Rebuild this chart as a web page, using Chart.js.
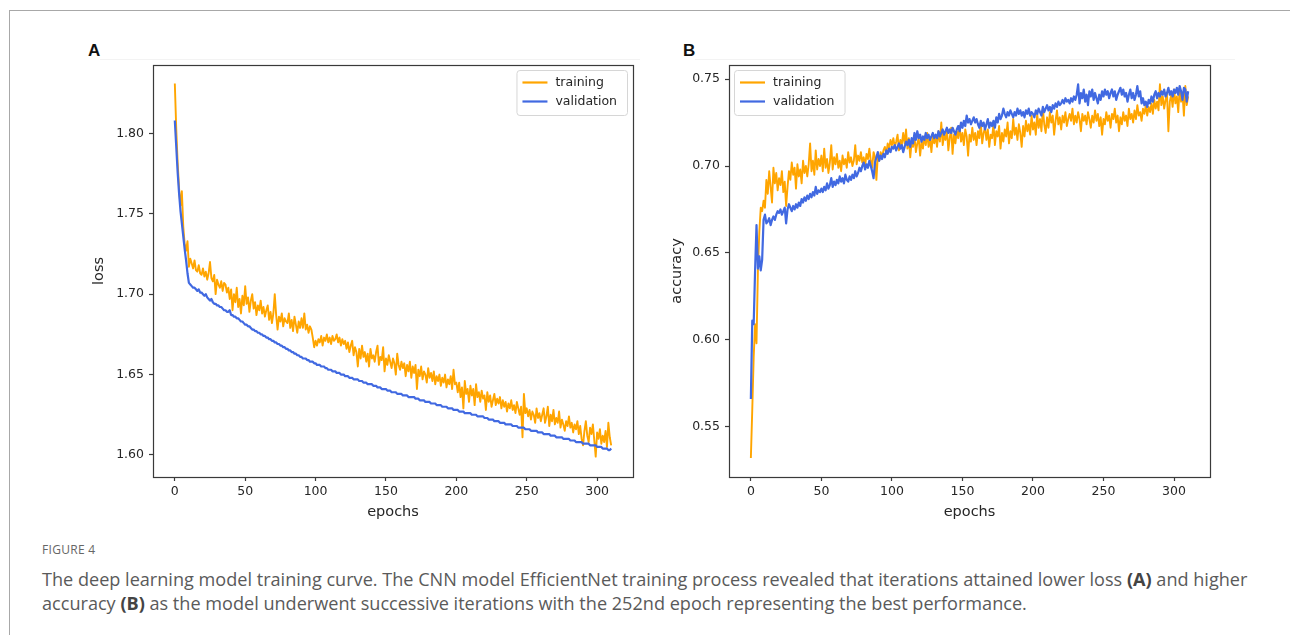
<!DOCTYPE html>
<html>
<head>
<meta charset="utf-8">
<script src="https://cdn.jsdelivr.net/npm/chart.js@4.4.1/dist/chart.umd.min.js"></script>
<style>
  html, body { margin: 0; padding: 0; background: #fff; }
  body { width: 1290px; height: 635px; position: relative; overflow: hidden; }
  .frameTop { position: absolute; left: 9px; top: 10px; width: 1281px; height: 1px; background: #a8a8a8; }
  .frameLeft { position: absolute; left: 9px; top: 10px; width: 1px; height: 625px; background: #a8a8a8; }
  .faint { position: absolute; top: 59px; height: 1px; background: #f3f3f3; }
  .panel { position: absolute; font-family: "Liberation Sans", Arial, sans-serif; font-weight: bold; font-size: 17px; color: #111; }
  canvas { position: absolute; }
  .figno { position: absolute; left: 42px; top: 541px; font-family: "Open Sans", sans-serif; font-size: 12px; color: #666; letter-spacing: 0.3px; }
  .cap { position: absolute; left: 42px; top: 567px; width: 1240px; font-family: "Open Sans", sans-serif; font-size: 18.1px; line-height: 24px; color: #5a5a5a; letter-spacing: 0px; }
  .cap b { color: #444; }
</style>
</head>
<body>
<div class="frameTop"></div>
<div class="frameLeft"></div>
<div class="faint" style="left:100px;width:540px"></div>
<div class="faint" style="left:695px;width:540px"></div>
<div class="panel" style="left:88px;top:41px">A</div>
<div class="panel" style="left:683px;top:41px">B</div>
<canvas id="cA" width="600" height="500" style="left:60px;top:30px"></canvas>
<canvas id="cB" width="600" height="500" style="left:640px;top:30px"></canvas>
<div class="figno">FIGURE 4</div>
<div class="cap">The deep learning model training curve. The CNN model EfficientNet training process revealed that iterations attained lower loss <b>(A)</b> and higher accuracy <b>(B)</b> as the model underwent successive iterations with the 252nd epoch representing the best performance.</div>
<script>
// ---------------- DATA ----------------
const seriesNames = ["training", "validation"];
const xTicks = [0, 50, 100, 150, 200, 250, 300];
const lossTicks = [1.60, 1.65, 1.70, 1.75, 1.80];
const accTicks = [0.55, 0.60, 0.65, 0.70, 0.75];

const lossTrain = [
1.831,1.803,1.782,1.766,1.755,1.764,1.742,1.731,1.727,1.733,1.717,
1.722,1.719,1.716,1.721,1.715,1.714,1.718,1.713,1.712,1.716,
1.711,1.714,1.709,1.713,1.720,1.710,1.708,1.712,1.700,1.709,
1.706,1.704,1.708,1.702,1.707,1.706,1.701,1.704,1.697,1.703,
1.690,1.700,1.695,1.704,1.692,1.697,1.688,1.699,1.693,1.705,
1.694,1.698,1.689,1.696,1.700,1.691,1.695,1.687,1.693,1.690,
1.696,1.688,1.692,1.686,1.690,1.693,1.684,1.689,1.682,1.688,
1.700,1.687,1.678,1.686,1.683,1.688,1.680,1.685,1.683,1.682,
1.688,1.679,1.684,1.677,1.686,1.681,1.676,1.683,1.679,1.685,
1.679,1.688,1.678,1.681,1.676,1.680,1.678,1.673,1.667,1.671,
1.668,1.672,1.670,1.674,1.668,1.673,1.671,1.675,1.670,1.673,
1.669,1.674,1.671,1.672,1.675,1.670,1.673,1.668,1.672,1.669,
1.671,1.666,1.670,1.664,1.668,1.671,1.662,1.667,1.664,1.655,
1.666,1.660,1.668,1.661,1.664,1.658,1.663,1.655,1.666,1.660,
1.662,1.658,1.664,1.668,1.656,1.661,1.659,1.667,1.652,1.660,
1.656,1.662,1.658,1.654,1.660,1.657,1.650,1.663,1.656,1.653,
1.658,1.654,1.657,1.649,1.656,1.652,1.658,1.648,1.655,1.651,
1.656,1.641,1.653,1.649,1.655,1.647,1.652,1.650,1.645,1.654,
1.648,1.651,1.646,1.652,1.644,1.649,1.646,1.650,1.643,1.648,
1.645,1.650,1.642,1.647,1.644,1.649,1.641,1.653,1.644,1.645,
1.639,1.645,1.636,1.642,1.629,1.646,1.638,1.641,1.633,1.643,
1.637,1.641,1.631,1.644,1.636,1.639,1.633,1.640,1.635,1.637,
1.628,1.639,1.633,1.637,1.630,1.634,1.638,1.631,1.635,1.632,
1.636,1.629,1.634,1.630,1.633,1.627,1.632,1.629,1.634,1.628,
1.631,1.626,1.633,1.629,1.625,1.630,1.611,1.638,1.626,1.629,
1.624,1.628,1.622,1.627,1.625,1.620,1.629,1.623,1.626,1.621,
1.625,1.629,1.620,1.624,1.630,1.618,1.625,1.621,1.628,1.619,
1.623,1.620,1.627,1.617,1.622,1.619,1.615,1.621,1.618,1.624,
1.617,1.620,1.614,1.619,1.616,1.621,1.613,1.618,1.610,1.606,
1.615,1.621,1.612,1.608,1.617,1.613,1.619,1.609,1.599,1.614,
1.610,1.616,1.607,1.612,1.608,1.615,1.605,1.620,1.611,1.606
];

const lossVal = [
1.808,1.792,1.776,1.763,1.752,1.744,1.736,1.728,1.721,1.713,1.707,
1.706,1.705,1.704,1.704,1.703,1.702,1.703,1.701,1.701,1.700,
1.699,1.700,1.698,1.697,1.696,1.697,1.695,1.694,1.694,1.693,
1.693,1.692,1.692,1.691,1.690,1.690,1.689,1.689,1.690,1.687,
1.687,1.686,1.686,1.685,1.685,1.684,1.683,1.683,1.682,1.681,
1.681,1.680,1.680,1.679,1.678,1.678,1.677,1.677,1.676,1.676,
1.675,1.675,1.674,1.674,1.673,1.673,1.672,1.672,1.671,1.671,
1.670,1.670,1.669,1.669,1.668,1.668,1.667,1.667,1.666,1.666,
1.665,1.665,1.664,1.664,1.663,1.663,1.662,1.662,1.661,1.661,
1.660,1.660,1.660,1.659,1.659,1.658,1.658,1.658,1.657,1.657,
1.656,1.656,1.656,1.655,1.655,1.655,1.654,1.654,1.653,1.653,
1.653,1.652,1.652,1.652,1.651,1.651,1.651,1.650,1.650,1.650,
1.649,1.649,1.649,1.648,1.648,1.648,1.647,1.647,1.647,1.647,
1.646,1.646,1.646,1.645,1.645,1.645,1.644,1.644,1.644,1.644,
1.643,1.643,1.643,1.642,1.642,1.642,1.641,1.641,1.641,1.641,
1.640,1.640,1.640,1.639,1.639,1.639,1.639,1.638,1.638,1.638,
1.638,1.637,1.637,1.637,1.637,1.636,1.636,1.636,1.636,1.636,
1.635,1.635,1.635,1.634,1.634,1.634,1.634,1.633,1.633,1.633,
1.633,1.632,1.632,1.632,1.632,1.631,1.631,1.631,1.631,1.630,
1.630,1.630,1.630,1.629,1.629,1.629,1.629,1.628,1.628,1.628,
1.628,1.627,1.627,1.627,1.627,1.626,1.626,1.626,1.626,1.626,
1.625,1.625,1.625,1.625,1.624,1.624,1.624,1.624,1.624,1.623,
1.623,1.623,1.622,1.622,1.622,1.622,1.621,1.621,1.621,1.621,
1.620,1.620,1.620,1.620,1.619,1.619,1.619,1.619,1.619,1.618,
1.618,1.618,1.618,1.617,1.617,1.617,1.617,1.617,1.616,1.616,
1.616,1.616,1.615,1.615,1.615,1.615,1.615,1.614,1.614,1.614,
1.614,1.613,1.613,1.613,1.613,1.613,1.612,1.612,1.612,1.612,
1.611,1.611,1.611,1.611,1.611,1.610,1.610,1.610,1.610,1.610,
1.609,1.609,1.609,1.609,1.608,1.608,1.608,1.608,1.608,1.607,
1.607,1.607,1.607,1.607,1.606,1.606,1.606,1.606,1.606,1.605,
1.605,1.605,1.605,1.604,1.604,1.604,1.604,1.603,1.603,1.604
];

const accTrain = [
0.532,0.560,0.590,0.609,0.598,0.640,0.662,0.676,0.674,0.680,0.676,
0.692,0.684,0.697,0.688,0.679,0.699,0.690,0.696,0.686,0.693,
0.689,0.697,0.685,0.691,0.677,0.688,0.697,0.692,0.702,0.695,
0.699,0.687,0.701,0.694,0.698,0.690,0.703,0.696,0.700,0.694,
0.701,0.713,0.697,0.703,0.695,0.709,0.698,0.704,0.700,0.706,
0.697,0.710,0.699,0.704,0.696,0.702,0.712,0.698,0.705,0.701,
0.707,0.699,0.703,0.697,0.706,0.701,0.704,0.699,0.708,0.702,
0.705,0.700,0.703,0.712,0.701,0.706,0.703,0.708,0.702,0.705,
0.700,0.707,0.704,0.710,0.703,0.699,0.708,0.705,0.692,0.706,
0.703,0.708,0.705,0.709,0.711,0.707,0.713,0.710,0.715,0.712,
0.716,0.711,0.714,0.718,0.709,0.715,0.712,0.719,0.713,0.721,
0.710,0.716,0.705,0.714,0.711,0.717,0.708,0.713,0.716,0.706,
0.714,0.710,0.717,0.712,0.719,0.711,0.716,0.708,0.718,0.713,
0.717,0.711,0.720,0.714,0.725,0.712,0.718,0.715,0.721,0.709,
0.716,0.722,0.707,0.718,0.713,0.720,0.716,0.723,0.714,0.719,
0.712,0.721,0.717,0.706,0.718,0.714,0.722,0.715,0.719,0.712,
0.720,0.716,0.725,0.713,0.719,0.722,0.715,0.721,0.711,0.718,
0.716,0.724,0.712,0.720,0.717,0.723,0.710,0.719,0.714,0.721,
0.717,0.725,0.713,0.720,0.716,0.727,0.718,0.722,0.715,0.724,
0.719,0.711,0.723,0.717,0.726,0.720,0.724,0.718,0.729,0.721,
0.725,0.718,0.730,0.722,0.727,0.720,0.733,0.724,0.719,0.728,
0.722,0.731,0.725,0.729,0.718,0.726,0.732,0.724,0.728,0.721,
0.729,0.725,0.731,0.723,0.727,0.730,0.726,0.733,0.724,0.729,
0.725,0.731,0.727,0.720,0.730,0.726,0.729,0.724,0.731,0.727,
0.722,0.729,0.725,0.732,0.726,0.730,0.723,0.728,0.718,0.727,
0.724,0.731,0.726,0.729,0.722,0.730,0.727,0.733,0.725,0.729,
0.720,0.728,0.724,0.731,0.726,0.729,0.723,0.733,0.727,0.730,
0.725,0.732,0.727,0.735,0.729,0.731,0.726,0.733,0.730,0.735,
0.729,0.734,0.731,0.736,0.730,0.738,0.733,0.737,0.732,0.747,
0.735,0.740,0.733,0.738,0.742,0.720,0.737,0.741,0.734,0.744,
0.736,0.740,0.731,0.745,0.737,0.742,0.729,0.746,0.735,0.740
];

const accVal = [
0.566,0.611,0.609,0.640,0.666,0.641,0.648,0.640,0.646,0.669,0.672,
0.667,0.668,0.670,0.666,0.669,0.671,0.669,0.672,0.674,0.673,
0.675,0.672,0.674,0.676,0.667,0.675,0.678,0.676,0.674,0.677,
0.675,0.678,0.676,0.679,0.677,0.681,0.679,0.682,0.680,0.683,
0.681,0.684,0.682,0.685,0.683,0.688,0.684,0.686,0.685,0.687,
0.685,0.688,0.686,0.690,0.687,0.689,0.693,0.688,0.691,0.689,
0.692,0.690,0.694,0.691,0.693,0.690,0.695,0.692,0.691,0.694,
0.692,0.695,0.693,0.697,0.694,0.696,0.699,0.697,0.700,0.702,
0.698,0.701,0.699,0.703,0.700,0.697,0.693,0.702,0.705,0.708,
0.703,0.706,0.704,0.707,0.705,0.709,0.707,0.710,0.708,0.711,
0.710,0.712,0.709,0.711,0.713,0.710,0.712,0.708,0.711,0.714,
0.712,0.715,0.711,0.716,0.713,0.719,0.715,0.720,0.716,0.718,
0.714,0.717,0.715,0.719,0.716,0.718,0.715,0.717,0.719,0.716,
0.718,0.716,0.720,0.717,0.719,0.721,0.718,0.720,0.722,0.719,
0.721,0.719,0.722,0.720,0.718,0.721,0.723,0.720,0.725,0.722,
0.726,0.723,0.729,0.725,0.727,0.724,0.726,0.728,0.725,0.727,
0.724,0.722,0.726,0.723,0.725,0.721,0.724,0.727,0.722,0.725,
0.723,0.726,0.722,0.728,0.725,0.730,0.727,0.729,0.733,0.730,
0.728,0.731,0.729,0.732,0.730,0.728,0.731,0.729,0.733,0.730,
0.732,0.729,0.731,0.728,0.732,0.730,0.733,0.729,0.731,0.730,
0.728,0.732,0.730,0.733,0.731,0.729,0.734,0.731,0.733,0.735,
0.732,0.734,0.731,0.735,0.733,0.736,0.734,0.737,0.735,0.736,
0.738,0.736,0.739,0.737,0.738,0.736,0.739,0.737,0.740,0.738,
0.741,0.747,0.736,0.742,0.739,0.744,0.737,0.741,0.735,0.743,
0.740,0.744,0.738,0.742,0.739,0.736,0.741,0.738,0.743,0.740,
0.744,0.741,0.743,0.739,0.742,0.744,0.740,0.743,0.738,0.741,
0.743,0.745,0.741,0.744,0.740,0.742,0.737,0.741,0.744,0.739,
0.742,0.738,0.741,0.746,0.740,0.743,0.736,0.739,0.735,0.737,
0.734,0.738,0.736,0.740,0.737,0.741,0.743,0.739,0.742,0.740,
0.743,0.741,0.744,0.740,0.742,0.745,0.741,0.743,0.740,0.744,
0.742,0.745,0.741,0.746,0.743,0.738,0.745,0.744,0.737,0.743
];

// ---------------- STYLE ----------------
const ORANGE = '#FFA500';
const BLUE = '#4169E1';
const INK = '#262626';
const FRAME = '#3a3a3a';

const toPts = arr => arr.map((v, i) => ({ x: i, y: v }));

const framePlugin = {
  id: 'mplFrame',
  afterDatasetsDraw(chart) {
    const { ctx, chartArea: a } = chart;
    ctx.save();
    ctx.strokeStyle = FRAME;
    ctx.lineWidth = 1.2;
    ctx.strokeRect(Math.round(a.left) + 0.5, Math.round(a.top) + 0.5, Math.round(a.right - a.left), Math.round(a.bottom - a.top));
    ctx.restore();
  }
};

const mplLegend = {
  id: 'mplLegend',
  afterDraw(chart, args, opts) {
    const { ctx, chartArea: a } = chart;
    const ds = chart.data.datasets;
    ctx.save();
    ctx.font = '12.5px "DejaVu Sans"';
    let tw = 0;
    ds.forEach(d => { tw = Math.max(tw, ctx.measureText(d.label).width); });
    const w = 8 + 25 + 8 + tw + 8;
    const h = 45;
    const x = opts.side === 'right' ? a.right - 6 - w : a.left + 5;
    const y = a.top + 5;
    ctx.beginPath();
    ctx.roundRect(x + 0.5, y + 0.5, w, h, 3);
    ctx.fillStyle = 'rgba(255,255,255,0.85)';
    ctx.fill();
    ctx.strokeStyle = '#d6d6d6';
    ctx.lineWidth = 1;
    ctx.stroke();
    ds.forEach((d, i) => {
      const cy = y + 12.5 + i * 19;
      ctx.strokeStyle = d.borderColor;
      ctx.lineWidth = 2.2;
      ctx.beginPath();
      ctx.moveTo(x + 6, cy);
      ctx.lineTo(x + 31, cy);
      ctx.stroke();
      ctx.fillStyle = INK;
      ctx.textBaseline = 'middle';
      ctx.fillText(d.label, x + 39, cy);
    });
    ctx.restore();
  }
};

function makeChart(id, train, val, yTicks, yMin, yMax, yTitle, cfg) {
  const tickFont = { family: 'DejaVu Sans', size: 12.5 };
  return new Chart(document.getElementById(id), {
    type: 'line',
    data: {
      datasets: [
        { label: seriesNames[0], data: toPts(train), borderColor: ORANGE, backgroundColor: ORANGE, borderWidth: 1.9, order: 1 },
        { label: seriesNames[1], data: toPts(val), borderColor: BLUE, backgroundColor: BLUE, borderWidth: 2.2, order: 0 }
      ]
    },
    options: {
      responsive: false,
      animation: false,
      devicePixelRatio: 1,
      layout: { padding: { left: 0, top: 35, right: cfg.padRight, bottom: 0 } },
      elements: { point: { radius: 0 }, line: { tension: 0, borderJoinStyle: 'round' } },
      plugins: { legend: { display: false }, tooltip: { enabled: false }, mplLegend: { side: cfg.legendSide } },
      scales: {
        x: {
          type: 'linear',
          min: -15.5, max: 325.5,
          afterBuildTicks: s => { s.ticks = xTicks.map(v => ({ value: v })); },
          afterFit: s => { s.height = 53; },
          grid: { drawOnChartArea: false, drawTicks: true, tickLength: 4, color: FRAME, tickWidth: 1.2 },
          border: { display: false },
          ticks: { font: tickFont, color: INK, padding: 3, maxRotation: 0, autoSkip: false, callback: v => String(v) },
          title: { display: true, text: 'epochs', font: { family: 'DejaVu Sans', size: 14.5 }, color: INK, padding: { top: 0, bottom: 9 } }
        },
        y: {
          type: 'linear',
          min: yMin, max: yMax,
          afterBuildTicks: s => { s.ticks = yTicks.map(v => ({ value: v })); },
          afterFit: s => { s.width = cfg.yWidth; },
          grid: { drawOnChartArea: false, drawTicks: true, tickLength: 4, color: FRAME, tickWidth: 1.2 },
          border: { display: false },
          ticks: { font: tickFont, color: INK, padding: 5, autoSkip: false, callback: v => Number(v).toFixed(2) },
          title: { display: true, text: yTitle, font: { family: 'DejaVu Sans', size: 14.5 }, color: INK, padding: { top: cfg.titlePad, bottom: 0 } }
        }
      }
    },
    plugins: [framePlugin, mplLegend]
  });
}

makeChart('cA', lossTrain, lossVal, lossTicks, 1.5863, 1.8425, 'loss', { padRight: 27, yWidth: 93, titlePad: 31, legendSide: 'right' });
makeChart('cB', accTrain, accVal, accTicks, 0.5211, 0.7581, 'accuracy', { padRight: 30, yWidth: 89, titlePad: 29, legendSide: 'left' });
</script>
</body>
</html>
